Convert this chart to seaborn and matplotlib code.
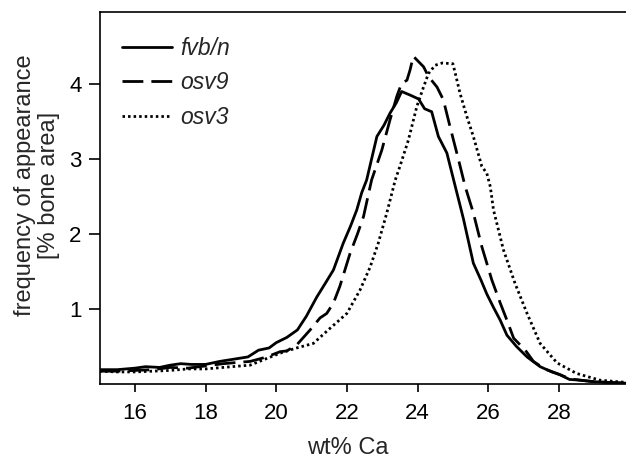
import numpy as np
import pandas as pd
import seaborn as sns
from matplotlib import pyplot as plt

# fvb/n (solid)
fvb_x = [15.0, 15.5, 16.0, 16.3, 16.7, 17.0, 17.3, 17.6, 18.0, 18.4, 18.8, 19.2, 19.5, 19.8, 20.0,
         20.3, 20.6, 20.85, 21.15, 21.4, 21.62, 21.9, 22.1, 22.28, 22.42, 22.56, 22.85, 23.05, 23.22,
         23.4, 23.55, 23.8, 24.03, 24.2, 24.4, 24.59, 24.83, 25.07, 25.3, 25.58, 25.8, 25.96, 26.15,
         26.34, 26.53, 26.8, 27.1, 27.47, 27.8, 28.04, 28.3, 28.6, 28.97, 29.4, 29.9]
fvb_y = [0.19, 0.19, 0.21, 0.23, 0.22, 0.25, 0.27, 0.26, 0.26, 0.30, 0.33, 0.36, 0.45, 0.48, 0.55,
         0.62, 0.72, 0.90, 1.16, 1.35, 1.52, 1.88, 2.10, 2.32, 2.55, 2.72, 3.30, 3.45, 3.61,
         3.75, 3.90, 3.85, 3.80, 3.67, 3.63, 3.30, 3.08, 2.63, 2.20, 1.61, 1.38, 1.20, 1.02,
         0.85, 0.65, 0.50, 0.36, 0.23, 0.16, 0.12, 0.06, 0.05, 0.03, 0.02, 0.01]

# osv9 (dashed)
osv9_x = [15.0, 15.5, 16.0, 16.5, 17.0, 17.5, 18.0, 18.5, 19.0, 19.26, 19.5, 19.73, 20.11, 20.3,
          20.58, 20.96, 21.24, 21.43, 21.62, 21.8, 22.09, 22.3, 22.47, 22.7, 22.99, 23.22, 23.41,
          23.55, 23.7, 23.79, 23.88, 24.17, 24.31, 24.55, 24.73, 24.92, 25.16, 25.35, 25.58, 25.82,
          26.1, 26.34, 26.53, 26.72, 27.05, 27.28, 27.6, 28.0, 28.3, 28.6, 29.0, 29.4, 29.9]
osv9_y = [0.17, 0.17, 0.18, 0.19, 0.22, 0.21, 0.24, 0.27, 0.29, 0.30, 0.33, 0.36, 0.43, 0.44,
          0.52, 0.72, 0.88, 0.94, 1.08, 1.30, 1.74, 2.00, 2.23, 2.72, 3.12, 3.52, 3.83,
          4.01, 4.05, 4.19, 4.37, 4.23, 4.10, 3.96, 3.79, 3.43, 2.99, 2.63, 2.28, 1.83,
          1.39, 1.08, 0.85, 0.61, 0.45, 0.30, 0.20, 0.13, 0.07, 0.05, 0.03, 0.02, 0.01]

# osv3 (dotted)
osv3_x = [15.0, 15.5, 16.0, 16.5, 17.0, 17.5, 18.0, 18.5, 19.0, 19.26, 19.63, 20.11, 20.58, 21.05,
          21.52, 22.0, 22.37, 22.66, 22.89, 23.13, 23.37, 23.5, 23.74, 23.98, 24.17, 24.31, 24.5,
          24.7, 25.0, 25.07, 25.2, 25.4, 25.58, 25.82, 25.96, 26.06, 26.15, 26.43, 26.76, 27.1,
          27.47, 27.95, 28.5, 29.16, 29.9]
osv3_y = [0.17, 0.16, 0.16, 0.17, 0.18, 0.20, 0.20, 0.22, 0.24, 0.25, 0.32, 0.41, 0.48, 0.54,
          0.74, 0.94, 1.25, 1.56, 1.88, 2.28, 2.72, 2.90, 3.25, 3.70, 3.96, 4.14, 4.25,
          4.28, 4.27, 4.14, 3.88, 3.56, 3.30, 2.90, 2.81, 2.63, 2.32, 1.79, 1.34, 0.94,
          0.54, 0.28, 0.14, 0.05, 0.02]

x_ticks = [16, 18, 20, 22, 24, 26, 28]
y_ticks = [1, 2, 3, 4]

sns.set_style("ticks")
plt.rcParams['font.family'] = ['Liberation Sans', 'DejaVu Sans']

fig = plt.figure(figsize=(6.26, 4.62), dpi=100)
ax = fig.add_axes([0.159, 0.169, 0.841, 0.805])

lw = 2.0
sns.lineplot(x=fvb_x, y=fvb_y, ax=ax, color='black', lw=lw, label='fvb/n')
sns.lineplot(x=osv9_x, y=osv9_y, ax=ax, color='black', lw=lw, linestyle=(0, (7.5, 2.9)), label='osv9')
sns.lineplot(x=osv3_x, y=osv3_y, ax=ax, color='black', lw=lw, linestyle=(0, (0.9, 1.1)), label='osv3')

ax.set_xlim(15, 29.9)
ax.set_ylim(0, 4.96)
ax.set_xticks(x_ticks)
ax.set_yticks(y_ticks)
ax.tick_params(labelsize=16, width=1.2, colors='black')
ax.tick_params(axis='x', length=6, pad=8)
ax.tick_params(axis='y', length=8, pad=5)
ax.spines['right'].set_visible(False)
for s in ['left', 'top', 'bottom']:
    ax.spines[s].set_linewidth(1.2)
    ax.spines[s].set_color('black')

ax.set_xlabel("wt% Ca", fontsize=17)
ax.set_ylabel("frequency of appearance\n[% bone area]", fontsize=17, linespacing=1.1)
ax.xaxis.set_label_coords(0.472, -0.142)
ax.yaxis.set_label_coords(-0.075, 0.535)

leg = ax.legend(loc='upper left', bbox_to_anchor=(0.025, 0.958), frameon=False,
                fontsize=16.5, handlelength=2.2, handletextpad=0.35, labelspacing=0.5,
                borderaxespad=0)
for t in leg.get_texts():
    t.set_style('italic')

fig.savefig("out.png", dpi=100)
